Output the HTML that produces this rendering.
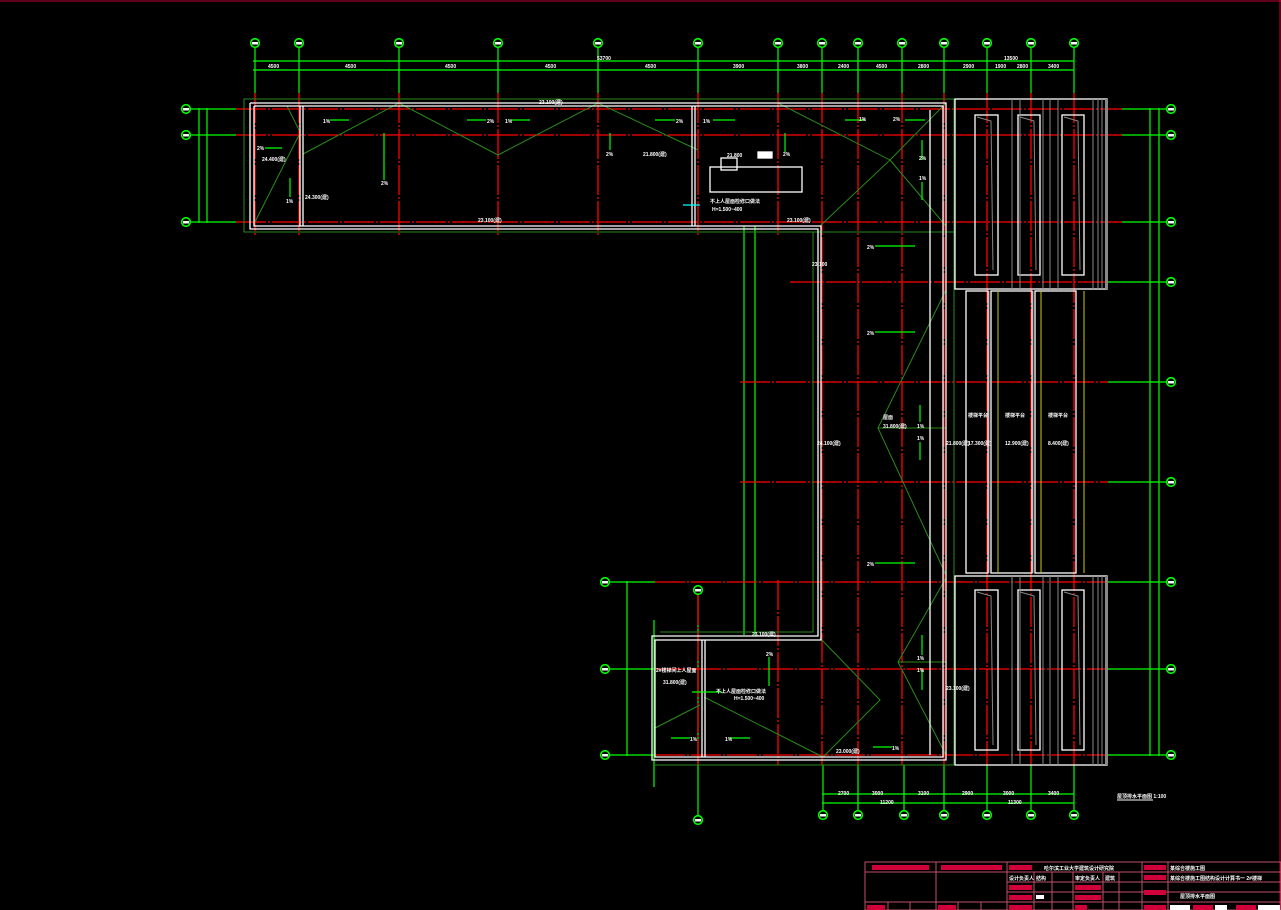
<!DOCTYPE html>
<html><head><meta charset="utf-8"><style>
html,body{margin:0;padding:0;background:#000;width:1281px;height:910px;overflow:hidden}
svg{display:block}
text{font-family:"Liberation Sans","Noto Sans CJK SC",sans-serif;fill:#fff;font-size:5px;font-weight:bold}
</style></head><body>
<svg width="1281" height="910" viewBox="0 0 1281 910" xmlns="http://www.w3.org/2000/svg">
<rect width="1281" height="910" fill="#000"/>
<line x1="0" y1="1" x2="1281" y2="1" stroke="#c0003a" stroke-width="1"/>
<line x1="1280" y1="0" x2="1280" y2="910" stroke="#c0003a" stroke-width="1"/>

<g stroke="#00ff00" stroke-width="1.2">
<line x1="255" y1="48" x2="255" y2="93"/><line x1="299" y1="48" x2="299" y2="93"/>
<line x1="399" y1="48" x2="399" y2="93"/><line x1="498" y1="48" x2="498" y2="93"/>
<line x1="598" y1="48" x2="598" y2="93"/><line x1="698" y1="48" x2="698" y2="93"/>
<line x1="778" y1="48" x2="778" y2="93"/><line x1="822" y1="48" x2="822" y2="93"/>
<line x1="858" y1="48" x2="858" y2="93"/><line x1="902" y1="48" x2="902" y2="93"/>
<line x1="944" y1="48" x2="944" y2="93"/><line x1="987" y1="48" x2="987" y2="93"/>
<line x1="1031" y1="48" x2="1031" y2="93"/><line x1="1074" y1="48" x2="1074" y2="93"/>
<line x1="253" y1="61" x2="1074" y2="61"/><line x1="253" y1="70" x2="1074" y2="70"/>
<line x1="191" y1="109" x2="236" y2="109"/><line x1="191" y1="135" x2="236" y2="135"/><line x1="191" y1="222" x2="236" y2="222"/>
<line x1="199" y1="108" x2="199" y2="223"/><line x1="207" y1="108" x2="207" y2="223"/>
<line x1="1122" y1="109" x2="1166" y2="109"/><line x1="1122" y1="135" x2="1166" y2="135"/>
<line x1="1122" y1="222" x2="1166" y2="222"/><line x1="1108" y1="282" x2="1166" y2="282"/>
<line x1="1108" y1="382" x2="1166" y2="382"/><line x1="1108" y1="482" x2="1166" y2="482"/>
<line x1="1108" y1="582" x2="1166" y2="582"/><line x1="1108" y1="669" x2="1166" y2="669"/>
<line x1="1108" y1="755" x2="1166" y2="755"/>
<line x1="1150" y1="108" x2="1150" y2="756"/><line x1="1159" y1="108" x2="1159" y2="756"/>
<line x1="610" y1="582" x2="655" y2="582"/><line x1="610" y1="669" x2="655" y2="669"/><line x1="610" y1="755" x2="655" y2="755"/>
<line x1="627" y1="581" x2="627" y2="756"/>
<line x1="698" y1="595" x2="698" y2="815"/>
<line x1="823" y1="765" x2="823" y2="810"/><line x1="858" y1="765" x2="858" y2="810"/>
<line x1="904" y1="765" x2="904" y2="810"/><line x1="944" y1="765" x2="944" y2="810"/>
<line x1="987" y1="765" x2="987" y2="810"/><line x1="1031" y1="765" x2="1031" y2="810"/>
<line x1="1074" y1="765" x2="1074" y2="810"/>
<line x1="822" y1="794" x2="1074" y2="794"/><line x1="822" y1="803" x2="1074" y2="803"/>
<line x1="744" y1="226" x2="744" y2="635"/><line x1="755" y1="226" x2="755" y2="635"/>
<line x1="654" y1="620" x2="654" y2="787"/>
</g>

<g stroke="#00ff00" stroke-width="1.6" fill="#000">
<circle cx="255" cy="43" r="4.3"/><circle cx="299" cy="43" r="4.3"/><circle cx="399" cy="43" r="4.3"/>
<circle cx="498" cy="43" r="4.3"/><circle cx="598" cy="43" r="4.3"/><circle cx="698" cy="43" r="4.3"/>
<circle cx="778" cy="43" r="4.3"/><circle cx="822" cy="43" r="4.3"/><circle cx="858" cy="43" r="4.3"/>
<circle cx="902" cy="43" r="4.3"/><circle cx="944" cy="43" r="4.3"/><circle cx="987" cy="43" r="4.3"/>
<circle cx="1031" cy="43" r="4.3"/><circle cx="1074" cy="43" r="4.3"/>
<circle cx="186" cy="109" r="4.3"/><circle cx="186" cy="135" r="4.3"/><circle cx="186" cy="222" r="4.3"/>
<circle cx="1171" cy="109" r="4.3"/><circle cx="1171" cy="135" r="4.3"/><circle cx="1171" cy="222" r="4.3"/>
<circle cx="1171" cy="282" r="4.3"/><circle cx="1171" cy="382" r="4.3"/><circle cx="1171" cy="482" r="4.3"/>
<circle cx="1171" cy="582" r="4.3"/><circle cx="1171" cy="669" r="4.3"/><circle cx="1171" cy="755" r="4.3"/>
<circle cx="605" cy="582" r="4.3"/><circle cx="605" cy="669" r="4.3"/><circle cx="605" cy="755" r="4.3"/>
<circle cx="698" cy="590" r="4.3"/><circle cx="698" cy="820" r="4.3"/>
<circle cx="823" cy="815" r="4.3"/><circle cx="858" cy="815" r="4.3"/><circle cx="904" cy="815" r="4.3"/>
<circle cx="944" cy="815" r="4.3"/><circle cx="987" cy="815" r="4.3"/><circle cx="1031" cy="815" r="4.3"/>
<circle cx="1074" cy="815" r="4.3"/>
</g>
<g fill="#fff">
<rect x="252" y="42" width="6" height="2.5"/><rect x="296" y="42" width="6" height="2.5"/><rect x="396" y="42" width="6" height="2.5"/>
<rect x="495" y="42" width="6" height="2.5"/><rect x="595" y="42" width="6" height="2.5"/><rect x="695" y="42" width="6" height="2.5"/>
<rect x="775" y="42" width="6" height="2.5"/><rect x="819" y="42" width="6" height="2.5"/><rect x="855" y="42" width="6" height="2.5"/>
<rect x="899" y="42" width="6" height="2.5"/><rect x="941" y="42" width="6" height="2.5"/><rect x="984" y="42" width="6" height="2.5"/>
<rect x="1028" y="42" width="6" height="2.5"/><rect x="1071" y="42" width="6" height="2.5"/>
<rect x="183" y="108" width="6" height="2.5"/><rect x="183" y="134" width="6" height="2.5"/><rect x="183" y="221" width="6" height="2.5"/>
<rect x="1168" y="108" width="6" height="2.5"/><rect x="1168" y="134" width="6" height="2.5"/><rect x="1168" y="221" width="6" height="2.5"/>
<rect x="1168" y="281" width="6" height="2.5"/><rect x="1168" y="381" width="6" height="2.5"/><rect x="1168" y="481" width="6" height="2.5"/>
<rect x="1168" y="581" width="6" height="2.5"/><rect x="1168" y="668" width="6" height="2.5"/><rect x="1168" y="754" width="6" height="2.5"/>
<rect x="602" y="581" width="6" height="2.5"/><rect x="602" y="668" width="6" height="2.5"/><rect x="602" y="754" width="6" height="2.5"/>
<rect x="695" y="589" width="6" height="2.5"/><rect x="695" y="819" width="6" height="2.5"/>
<rect x="820" y="814" width="6" height="2.5"/><rect x="855" y="814" width="6" height="2.5"/><rect x="901" y="814" width="6" height="2.5"/>
<rect x="941" y="814" width="6" height="2.5"/><rect x="984" y="814" width="6" height="2.5"/><rect x="1028" y="814" width="6" height="2.5"/>
<rect x="1071" y="814" width="6" height="2.5"/>
</g>

<g stroke="#ff0000" stroke-width="1.3" stroke-dasharray="30,2,2,2">
<line x1="255" y1="93" x2="255" y2="236"/><line x1="299" y1="93" x2="299" y2="236"/>
<line x1="399" y1="93" x2="399" y2="236"/><line x1="498" y1="93" x2="498" y2="236"/>
<line x1="598" y1="93" x2="598" y2="236"/><line x1="698" y1="93" x2="698" y2="236"/>
<line x1="778" y1="93" x2="778" y2="236"/>
<line x1="822" y1="93" x2="822" y2="765"/><line x1="858" y1="93" x2="858" y2="765"/>
<line x1="902" y1="93" x2="902" y2="765"/><line x1="944" y1="93" x2="944" y2="765"/>
<line x1="987" y1="93" x2="987" y2="765"/><line x1="1031" y1="93" x2="1031" y2="765"/>
<line x1="1074" y1="93" x2="1074" y2="765"/>
<line x1="698" y1="595" x2="698" y2="765"/><line x1="778" y1="580" x2="778" y2="765"/>
<line x1="236" y1="109" x2="1122" y2="109"/><line x1="236" y1="135" x2="1122" y2="135"/>
<line x1="236" y1="222" x2="1122" y2="222"/><line x1="790" y1="282" x2="1108" y2="282"/>
<line x1="740" y1="382" x2="1108" y2="382"/><line x1="740" y1="482" x2="1108" y2="482"/>
<line x1="655" y1="582" x2="1108" y2="582"/><line x1="655" y1="669" x2="1108" y2="669"/>
<line x1="655" y1="755" x2="1108" y2="755"/>
</g>

<g stroke="#2a8a1a" stroke-width="1" fill="none">
<rect x="244" y="99" width="710" height="133"/>
<polyline points="813,232 813,632 660,632"/>
<line x1="954" y1="99" x2="954" y2="765"/>
<line x1="654" y1="765" x2="954" y2="765"/>
<polyline points="255,222 299,135"/>
<polyline points="287,106 299,130"/>
<polyline points="303,154 399,103 498,155 598,103 698,150"/>
<polyline points="698,103 778,103 890,160 946,103"/>
<polyline points="890,160 820,226"/>
<polyline points="890,160 946,226"/>
<polyline points="946,290 878,428 946,575"/>
<polyline points="878,428 946,428"/>
<polyline points="946,578 898,662 946,755"/>
<polyline points="898,662 946,662"/>
<polyline points="820,638 880,700 823,757"/>
<polyline points="704,697 823,757"/>
<polyline points="655,728 700,705"/>
</g>

<g stroke="#fff" stroke-width="1.3" fill="none">
<polyline points="250,103 946,103 946,760 652,760 652,636 818,636 818,229 250,229 250,103"/>
<polyline points="254,106 943,106 943,757 655,757 655,640 821,640 821,226 254,226 254,106"/>
<line x1="300" y1="106" x2="300" y2="226"/><line x1="303" y1="106" x2="303" y2="226"/>
<line x1="692" y1="106" x2="692" y2="226"/><line x1="695" y1="106" x2="695" y2="226"/>
<line x1="930" y1="110" x2="930" y2="755"/>
<line x1="702" y1="640" x2="702" y2="757"/><line x1="705" y1="640" x2="705" y2="757"/>
<rect x="710" y="167" width="92" height="25"/>
<rect x="721" y="158" width="16" height="12"/>
<rect x="758" y="152" width="14" height="6" fill="#fff"/>
<rect x="955" y="99" width="152" height="190"/>
<rect x="955" y="576" width="152" height="189"/>
<rect x="975" y="115" width="23" height="160"/><rect x="1018" y="115" width="22" height="160"/><rect x="1062" y="115" width="22" height="160"/>
<rect x="975" y="590" width="23" height="160"/><rect x="1018" y="590" width="22" height="160"/><rect x="1062" y="590" width="22" height="160"/>
<rect x="966" y="291" width="22" height="282"/><rect x="991" y="291" width="41" height="282"/><rect x="1035" y="291" width="41" height="282"/>
</g>
<g stroke="#888" stroke-width="1">
<line x1="1012" y1="99" x2="1012" y2="289"/><line x1="1020" y1="99" x2="1020" y2="289"/><line x1="1043" y1="99" x2="1043" y2="289"/>
<line x1="1050" y1="99" x2="1050" y2="289"/><line x1="1058" y1="99" x2="1058" y2="289"/><line x1="1093" y1="99" x2="1093" y2="289"/>
<line x1="1098" y1="99" x2="1098" y2="289"/><line x1="1102" y1="99" x2="1102" y2="289"/>
<line x1="1012" y1="576" x2="1012" y2="765"/><line x1="1020" y1="576" x2="1020" y2="765"/><line x1="1043" y1="576" x2="1043" y2="765"/>
<line x1="1050" y1="576" x2="1050" y2="765"/><line x1="1058" y1="576" x2="1058" y2="765"/><line x1="1093" y1="576" x2="1093" y2="765"/>
<line x1="1098" y1="576" x2="1098" y2="765"/><line x1="1102" y1="576" x2="1102" y2="765"/>
<line x1="989" y1="291" x2="989" y2="573"/><line x1="1033" y1="291" x2="1033" y2="573"/>
<polyline points="977,117 991,121 993,270" fill="none"/><polyline points="1020,117 1034,121 1036,270" fill="none"/><polyline points="1064,117 1078,121 1080,270" fill="none"/>
<polyline points="977,592 991,596 993,745" fill="none"/><polyline points="1020,592 1034,596 1036,745" fill="none"/><polyline points="1064,592 1078,596 1080,745" fill="none"/>
</g>
<rect x="1105" y="99" width="3" height="190" fill="#888"/><rect x="1105" y="576" width="3" height="189" fill="#888"/>
<g stroke="#cccc00" stroke-width="1">
<line x1="998" y1="291" x2="998" y2="573"/><line x1="1041" y1="291" x2="1041" y2="573"/><line x1="1084" y1="291" x2="1084" y2="573"/>
</g>

<g stroke="#00ff00" stroke-width="1.2">
<line x1="330" y1="120" x2="349" y2="120"/><line x1="467" y1="120" x2="486" y2="120"/><line x1="511" y1="120" x2="530" y2="120"/>
<line x1="655" y1="120" x2="675" y2="120"/><line x1="713" y1="120" x2="735" y2="120"/>
<line x1="384" y1="133" x2="384" y2="180"/><line x1="290" y1="178" x2="290" y2="197"/><line x1="265" y1="148" x2="282" y2="148"/>
<line x1="785" y1="133" x2="785" y2="152"/><line x1="610" y1="133" x2="610" y2="150"/>
<line x1="845" y1="120" x2="865" y2="120"/><line x1="905" y1="120" x2="925" y2="120"/>
<line x1="922" y1="140" x2="922" y2="160"/><line x1="922" y1="182" x2="922" y2="200"/>
<line x1="875" y1="246" x2="915" y2="246"/><line x1="875" y1="332" x2="915" y2="332"/><line x1="875" y1="563" x2="915" y2="563"/>
<line x1="920" y1="405" x2="920" y2="422"/><line x1="920" y1="442" x2="920" y2="460"/>
<line x1="922" y1="635" x2="922" y2="655"/><line x1="922" y1="670" x2="922" y2="690"/>
<line x1="769" y1="657" x2="769" y2="686"/><line x1="671" y1="738" x2="690" y2="738"/><line x1="730" y1="738" x2="750" y2="738"/>
<line x1="873" y1="747" x2="892" y2="747"/>
<line x1="683" y1="205" x2="700" y2="205" stroke="#0ff"/>
<line x1="692" y1="692" x2="722" y2="692"/>
</g>
<g>
<text x="323" y="123">1%</text><text x="487" y="123">2%</text><text x="505" y="123">1%</text><text x="676" y="123">2%</text><text x="703" y="123">1%</text>
<text x="381" y="185">2%</text><text x="286" y="203">1%</text><text x="257" y="150">2%</text>
<text x="606" y="156">2%</text><text x="783" y="156">2%</text><text x="859" y="121">1%</text><text x="893" y="121">2%</text>
<text x="919" y="160">2%</text><text x="919" y="180">1%</text>
<text x="867" y="249">2%</text><text x="867" y="335">2%</text><text x="867" y="566">2%</text>
<text x="917" y="428">1%</text><text x="917" y="440">1%</text><text x="917" y="660">1%</text><text x="917" y="672">1%</text>
<text x="766" y="656">2%</text><text x="690" y="741">1%</text><text x="725" y="741">1%</text><text x="892" y="750">1%</text>
<text x="539" y="104">23.100(建)</text><text x="478" y="222">23.100(建)</text><text x="787" y="222">23.100(建)</text>
<text x="262" y="161">24.400(建)</text><text x="305" y="199">24.300(建)</text><text x="643" y="156">21.800(建)</text>
<text x="727" y="157">21.800</text><text x="710" y="203">不上人屋面检修口做法</text><text x="712" y="211">H=1.500~400</text>
<text x="812" y="266">23.100</text><text x="817" y="445">24.100(建)</text><text x="883" y="419">屋面</text><text x="883" y="428">31.800(建)</text>
<text x="946" y="445">21.800(建)</text><text x="968" y="445">17.300(建)</text><text x="1005" y="445">12.900(建)</text><text x="1048" y="445">8.400(建)</text>
<text x="968" y="417">楼梯平台</text><text x="1005" y="417">楼梯平台</text><text x="1048" y="417">楼梯平台</text>
<text x="752" y="636">23.100(建)</text><text x="656" y="672">2#楼梯间上人屋面</text><text x="663" y="684">31.800(建)</text>
<text x="716" y="693">不上人屋面检修口做法</text><text x="734" y="700">H=1.500~400</text>
<text x="946" y="690">23.100(建)</text><text x="836" y="753">23.000(建)</text>
<text x="268" y="68">4500</text><text x="345" y="68">4500</text><text x="445" y="68">4500</text><text x="545" y="68">4500</text>
<text x="645" y="68">4500</text><text x="733" y="68">3900</text><text x="797" y="68">3800</text><text x="838" y="68">2400</text>
<text x="876" y="68">4500</text><text x="918" y="68">2800</text><text x="963" y="68">2900</text><text x="995" y="68">1900</text>
<text x="1017" y="68">2800</text><text x="1048" y="68">3400</text><text x="597" y="60">53700</text><text x="1004" y="60">13500</text>
<text x="838" y="795">2700</text><text x="872" y="795">3000</text><text x="918" y="795">3100</text><text x="962" y="795">2900</text>
<text x="1003" y="795">3000</text><text x="1048" y="795">3400</text><text x="880" y="804">11200</text><text x="1008" y="804">11300</text>
<text x="1117" y="798" font-size="6">屋顶排水平面图 1:100</text>
</g>
<line x1="1117" y1="800" x2="1153" y2="800" stroke="#fff" stroke-width="1"/>

<g stroke="#c0506a" stroke-width="1" fill="none">
<rect x="865" y="862" width="416" height="48"/>
<line x1="865" y1="872" x2="1281" y2="872"/>
<line x1="1007" y1="882" x2="1281" y2="882"/>
<line x1="1007" y1="892" x2="1281" y2="892"/>
<line x1="865" y1="902" x2="1281" y2="902"/>
<line x1="936" y1="862" x2="936" y2="910"/><line x1="1007" y1="862" x2="1007" y2="910"/>
<line x1="1034" y1="872" x2="1034" y2="910"/><line x1="1052" y1="872" x2="1052" y2="910"/>
<line x1="1073" y1="872" x2="1073" y2="910"/><line x1="1103" y1="872" x2="1103" y2="910"/>
<line x1="1119" y1="872" x2="1119" y2="910"/><line x1="1142" y1="862" x2="1142" y2="910"/>
<line x1="1168" y1="862" x2="1168" y2="910"/>
<line x1="888" y1="902" x2="888" y2="910"/><line x1="910" y1="902" x2="910" y2="910"/>
<line x1="958" y1="902" x2="958" y2="910"/><line x1="981" y1="902" x2="981" y2="910"/>
</g>
<g fill="#d0003a">
<rect x="872" y="865" width="57" height="5"/><rect x="941" y="865" width="61" height="5"/>
<rect x="1009" y="865" width="23" height="5"/><rect x="1144" y="865" width="22" height="5"/>
<rect x="1144" y="875" width="22" height="5"/><rect x="1144" y="890" width="22" height="5"/>
<rect x="1009" y="885" width="23" height="5"/><rect x="1075" y="885" width="26" height="5"/>
<rect x="1009" y="895" width="23" height="5"/><rect x="1075" y="895" width="26" height="5"/>
<rect x="867" y="905" width="18" height="5"/><rect x="938" y="905" width="18" height="5"/>
<rect x="1009" y="905" width="23" height="5"/><rect x="1075" y="905" width="12" height="5"/>
<rect x="1144" y="905" width="22" height="5"/><rect x="1193" y="905" width="20" height="5"/><rect x="1236" y="905" width="20" height="5"/>
</g>
<g>
<text x="1044" y="870" fill="#e0104a" font-size="6">哈尔滨工业大学建筑设计研究院</text>
<text x="1170" y="870" font-size="6">某综合楼施工图</text>
<text x="1170" y="880" font-size="6">某综合楼施工图结构设计计算书一 2#楼梯</text>
<text x="1180" y="898" font-size="6">屋顶排水平面图</text>
<text x="1009" y="880" fill="#e0104a">设计负责人</text><text x="1075" y="880" fill="#e0104a">审定负责人</text>
<text x="1036" y="880">结构</text><text x="1105" y="880">建筑</text>
</g>
<g fill="#fff"><rect x="1036" y="895" width="8" height="4"/><rect x="1170" y="905" width="20" height="5"/><rect x="1215" y="905" width="12" height="5"/><rect x="1258" y="905" width="22" height="5"/></g>
</svg>
</body></html>
